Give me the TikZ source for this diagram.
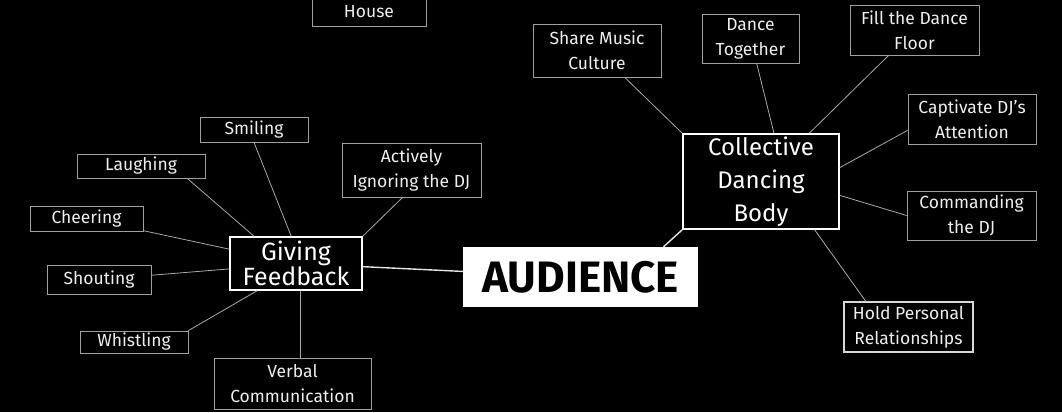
\documentclass[tikz,border=0pt]{standalone}
\usepackage{fontspec}
\setmainfont{Fira Sans}
\usetikzlibrary{positioning}

\definecolor{edgegrey}{HTML}{A8A8A8}
\definecolor{boxgrey}{HTML}{A0A0A0}
\definecolor{inkwhite}{HTML}{EEEEEE}

\begin{document}
\begin{tikzpicture}[x=1pt,y=-1pt,
    leaf/.style={rectangle, draw=boxgrey, line width=0.8pt, text=inkwhite, align=center,
                 inner sep=0pt, font=\fontsize{17.5}{25}\selectfont},
    hub/.style={rectangle, draw=white, line width=1.6pt, text=white, align=center, inner sep=0pt},
    link/.style={draw=edgegrey, line width=0.8pt},
    mainlink/.style={draw=white!90!black, line width=1.4pt}]
  \fill[black] (0,0) rectangle (1062,412);
  \clip (0,0) rectangle (1062,412);

  % centre
  \node[rectangle, fill=white, text=black, inner sep=0pt, minimum width=235pt, minimum height=60pt,
        font=\fontsize{44}{44}\selectfont\bfseries] (aud) at (580.5,277) {AUDIENCE};

  % left branch
  \node[hub, minimum width=132pt, minimum height=53pt, font=\fontsize{25}{23}\selectfont]
        (gf) at (296,263.5) {Giving\\Feedback};
  \node[leaf, minimum width=114pt, minimum height=28pt] (house)     at (369,12)      {House};
  \node[leaf, minimum width=108pt, minimum height=25pt] (smiling)   at (254,129.5)   {Smiling};
  \node[leaf, minimum width=128pt, minimum height=24pt] (laughing)  at (141,166)     {Laughing};
  \node[leaf, minimum width=113pt, minimum height=25pt] (cheering)  at (86.5,218.5)  {Cheering};
  \node[leaf, minimum width=104pt, minimum height=29pt] (shouting)  at (99,279.5)    {Shouting};
  \node[leaf, minimum width=108pt, minimum height=22pt] (whistling) at (134,342)     {Whistling};
  \node[leaf, minimum width=157pt, minimum height=51pt] (verbal)    at (292.5,383.5) {Verbal\\Communication};
  \node[leaf, minimum width=139pt, minimum height=54pt] (actively)  at (411.5,170)   {Actively\\Ignoring the DJ};

  % right branch
  \node[hub, minimum width=156pt, minimum height=95pt, font=\fontsize{24}{33}\selectfont]
        (cdb) at (761,181.5) {Collective\\Dancing\\Body};
  \node[leaf, minimum width=128pt, minimum height=53pt] (share)      at (597,50.5)    {Share Music\\Culture};
  \node[leaf, minimum width=97pt,  minimum height=49pt] (dance)      at (750.5,38.5)  {Dance\\Together};
  \node[leaf, minimum width=129pt, minimum height=50pt] (fill)       at (914.5,30)    {Fill the Dance\\Floor};
  \node[leaf, minimum width=128pt, minimum height=50pt] (captivate)  at (972,119)     {Captivate DJ’s\\Attention};
  \node[leaf, minimum width=129pt, minimum height=49pt] (commanding) at (971.5,215.5) {Commanding\\the DJ};
  \node[leaf, draw=white!85!black, line width=1.4pt, minimum width=129pt, minimum height=50pt]
        (hold) at (908.5,327) {Hold Personal\\Relationships};

  \path[link] (gf.100) edge (smiling.south)
              (gf.147) edge (laughing.-15)
              (gf) edge (cheering)
              (gf) edge (shouting)
              (gf.215) edge (whistling.north east)
              (gf.-80) edge (gf.-80 |- verbal.north)
              (gf.north east) edge (actively.-108);
  \path[mainlink] (gf) edge (aud)
                  (aud.20) edge (cdb.south west);
  \path[link] (cdb.north west) edge (share)
              (cdb.75) edge (dance)
              (cdb.45) edge (fill)
              (cdb.10) edge (captivate.190)
              (cdb.-10) edge (commanding.west)
              (cdb.-42) edge (hold.149);
\end{tikzpicture}
\end{document}
